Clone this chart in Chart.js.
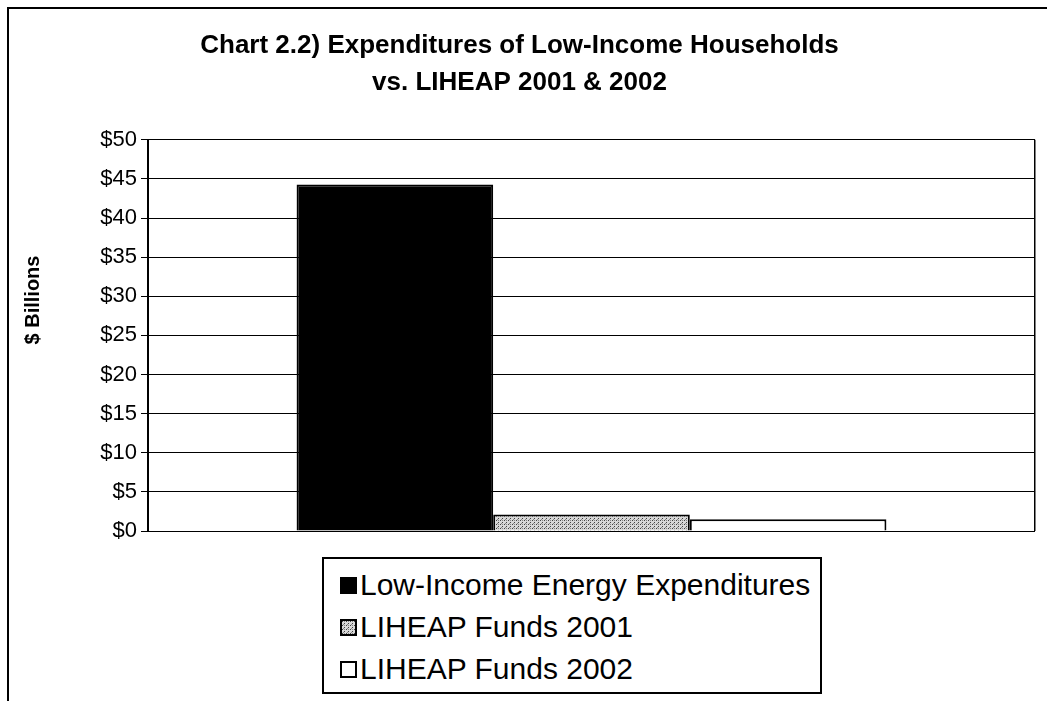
<!DOCTYPE html>
<html>
<head>
<meta charset="utf-8">
<script src="https://cdn.jsdelivr.net/npm/chart.js@4"></script>
<style>
  html, body { margin: 0; padding: 0; background: #fff; }
  #wrap { position: relative; width: 1047px; height: 701px; overflow: hidden; }
  #frame { position: absolute; left: 7px; top: 7px; right: -10px; bottom: -10px; border-left: 2px solid #000; border-top: 2px solid #000; }
  #legend {
    position: absolute; left: 322px; top: 557px; width: 500px; height: 137px;
    border: 2px solid #000; background: #fff;
    font-family: "Liberation Sans", Arial, sans-serif; font-size: 30px; color: #000;
    box-sizing: border-box; padding-top: 5px;
  }
  #legend .row { display: flex; align-items: center; height: 42px; padding-left: 16px; }
  #legend .sw { width: 17px; height: 17px; border: 2px solid #000; margin-right: 3px; box-sizing: border-box; }
</style>
</head>
<body>
<div id="wrap">
  <div id="frame"></div>
  <canvas id="chart"></canvas>
  <div id="legend"></div>
</div>
<script>
const categories = [''];
const seriesLabels = ['Low-Income Energy Expenditures', 'LIHEAP Funds 2001', 'LIHEAP Funds 2002'];
const lowIncomeValues = [44.3];
const liheap2001Values = [2.1];
const liheap2002Values = [1.5];
const yTickValues = [0, 5, 10, 15, 20, 25, 30, 35, 40, 45, 50];
const yTitle = '$ Billions';

// stippled grey fill like the scanned 2001 bar
const dots = document.createElement('canvas');
dots.width = 4; dots.height = 4;
const dctx = dots.getContext('2d');
dctx.fillStyle = '#d8d8d8'; dctx.fillRect(0, 0, 4, 4);
dctx.fillStyle = '#444'; dctx.fillRect(0, 0, 1, 1); dctx.fillRect(2, 2, 1, 1);
dctx.fillStyle = '#888'; dctx.fillRect(2, 0, 1, 1); dctx.fillRect(1, 3, 1, 1);

const ctx = document.getElementById('chart');
const stipple = ctx.getContext('2d').createPattern(dots, 'repeat');

const fills = ['#000000', stipple, '#ffffff'];
const values = [lowIncomeValues, liheap2001Values, liheap2002Values];

// y axis title sits higher than the axis middle in the original
const yTitlePlugin = {
    id: 'yTitle',
    afterDraw(c) {
        const g = c.ctx;
        g.save();
        g.translate(33, 300);
        g.rotate(-Math.PI / 2);
        g.font = "bold 20px 'Liberation Sans', Arial";
        g.fillStyle = '#000';
        g.textAlign = 'center';
        g.textBaseline = 'middle';
        g.fillText(yTitle, 0, 0);
        g.restore();
    }
};

const chart = new Chart(ctx, {
    type: 'bar',
    data: {
        labels: categories,
        datasets: seriesLabels.map((label, i) => ({
            label: label,
            data: values[i],
            backgroundColor: fills[i],
            borderColor: '#000',
            borderWidth: 2,
            categoryPercentage: 0.665,
            barPercentage: 1.0
        }))
    },
    options: {
        responsive: true,
        maintainAspectRatio: false,
        animation: false,
        layout: { padding: { left: 4, right: 12, bottom: 170 } },
        plugins: {
            legend: { display: false },
            tooltip: { enabled: false },
            title: {
                display: true,
                text: ['Chart 2.2) Expenditures of Low-Income Households', 'vs. LIHEAP 2001 & 2002'],
                color: '#000',
                font: { family: "'Liberation Sans', Arial", size: 26, weight: 'bold', lineHeight: 1.4 },
                padding: { top: 28, bottom: 39 }
            }
        },
        scales: {
            x: {
                offset: true,
                ticks: { display: false },
                grid: { color: '#000', lineWidth: 1.5, drawTicks: false, offset: true },
                border: { display: false },
                afterFit: s => { s.height = 0; }
            },
            y: {
                min: 0,
                max: 50,
                afterBuildTicks: s => { s.ticks = yTickValues.map(v => ({ value: v })); },
                ticks: {
                    color: '#000',
                    padding: 4,
                    font: { family: "'Liberation Sans', Arial", size: 22 },
                    callback: v => '$' + v
                },
                grid: { color: '#000', lineWidth: 1, tickLength: 7 },
                border: { color: '#000', width: 2 },
                afterFit: s => { s.width = 144; }
            }
        }
    },
    plugins: [yTitlePlugin]
});

// legend box built from the same series
const legendEl = document.getElementById('legend');
const dotsUrl = dots.toDataURL();
seriesLabels.forEach((label, i) => {
    const row = document.createElement('div');
    row.className = 'row';
    const sw = document.createElement('span');
    sw.className = 'sw';
    if (i === 1) sw.style.backgroundImage = 'url(' + dotsUrl + ')';
    else sw.style.background = fills[i];
    const txt = document.createElement('span');
    txt.textContent = label;
    row.appendChild(sw);
    row.appendChild(txt);
    legendEl.appendChild(row);
});
</script>
</body>
</html>
